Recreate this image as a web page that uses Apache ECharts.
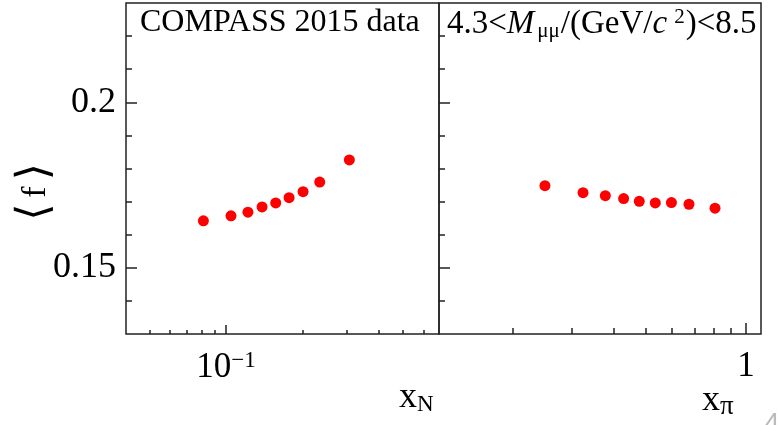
<!DOCTYPE html>
<html>
<head>
<meta charset="utf-8">
<script src="https://cdn.jsdelivr.net/npm/echarts@6/dist/echarts.min.js"></script>
<style>
html, body { margin: 0; padding: 0; background: #fff; }
#main { width: 779px; height: 425px; }
</style>
</head>
<body>
<div id="main"></div>
<script>
// data
var xN = [0.0814, 0.1046, 0.122, 0.1387, 0.157, 0.1773, 0.2013, 0.2342, 0.3065];
var fN = [0.1642, 0.1657, 0.1668, 0.1684, 0.1696, 0.1712, 0.1730, 0.1759, 0.1826];
var xPi = [0.249, 0.324, 0.378, 0.429, 0.478, 0.534, 0.597, 0.674, 0.807];
var fPi = [0.1748, 0.1727, 0.1718, 0.1709, 0.1701, 0.1696, 0.1697, 0.1692, 0.1680];

// axis ranges and ticks
var xNRange = [0.0403, 0.692];
var xPiRange = [0.1197, 1.109];
var fRange = [0.13, 0.23];
var xNMinor = [0.05, 0.06, 0.07, 0.08, 0.09, 0.2, 0.3, 0.4, 0.5, 0.6];
var xNMajor = [0.1];
var xPiMinor = [0.2, 0.3, 0.4, 0.5, 0.6, 0.7, 0.8, 0.9];
var xPiMajor = [1];
var fMinor = [0.14, 0.16, 0.17, 0.18, 0.19, 0.21, 0.22];
var fMajor = [0.15, 0.2];

var FONT = 'Liberation Serif';
var INK = '#222';

function lg(v) { return Math.log10(v); }

function powLabel(v) {
	var e = Math.round(v);
	if (e === 0) return '{b|1}';
	return '{b|10}{e|' + (e < 0 ? '\u2212' : '') + Math.abs(e) + '}';
}

var powRich = {
	b: { fontFamily: FONT, fontSize: 35, color: '#000' },
	e: { fontFamily: FONT, fontSize: 23, color: '#000', verticalAlign: 'top', padding: [0, 0, 14, 0] }
};

function xAxes(gridIndex, range, minor, major, tickMinor, tickMajor) {
	return [
		{
			type: 'value', gridIndex: gridIndex, position: 'bottom', offset: 0,
			min: lg(range[0]), max: lg(range[1]),
			axisLine: { show: false, onZero: false },
			axisTick: { show: true, inside: true, length: tickMinor, customValues: minor.map(lg),
				lineStyle: { color: INK, width: 1.5 } },
			axisLabel: { show: false },
			splitLine: { show: false }
		},
		{
			type: 'value', gridIndex: gridIndex, position: 'bottom', offset: 0,
			min: lg(range[0]), max: lg(range[1]),
			axisLine: { show: false, onZero: false },
			axisTick: { show: true, inside: true, length: tickMajor, customValues: major.map(lg),
				lineStyle: { color: INK, width: 1.5 } },
			axisLabel: { show: true, customValues: major.map(lg), margin: 15,
				formatter: powLabel, rich: powRich },
			splitLine: { show: false }
		}
	];
}

function yAxes(gridIndex, showLabels) {
	return [
		{
			type: 'value', gridIndex: gridIndex, position: 'left', offset: 0,
			min: fRange[0], max: fRange[1], interval: 0.01,
			axisLine: { show: false, onZero: false },
			axisTick: { show: true, inside: true, length: 6, customValues: fMinor,
				lineStyle: { color: INK, width: 1.5 } },
			axisLabel: { show: false },
			splitLine: { show: false }
		},
		{
			type: 'value', gridIndex: gridIndex, position: 'left', offset: 0,
			min: fRange[0], max: fRange[1], interval: 0.01,
			axisLine: { show: false, onZero: false },
			axisTick: { show: true, inside: true, length: 11, customValues: fMajor,
				lineStyle: { color: INK, width: 1.5 } },
			axisLabel: { show: showLabels, customValues: fMajor, margin: 10,
				fontFamily: FONT, fontSize: 36, color: '#000',
				formatter: function (v) { return String(+v.toFixed(2)); } },
			splitLine: { show: false }
		}
	];
}

function points(xs, ys) {
	return xs.map(function (x, i) { return [lg(x), ys[i]]; });
}

var vm = echarts.init(document.getElementById('main'), null, { renderer: 'canvas' });

var option = {
	animation: false,
	backgroundColor: '#fff',
	grid: [
		{ left: 126, top: 3, width: 313, height: 331, show: true, outerBoundsMode: 'none',
			borderColor: INK, borderWidth: 1.5, backgroundColor: 'transparent' },
		{ left: 439, top: 3, width: 322, height: 331, show: true, outerBoundsMode: 'none',
			borderColor: INK, borderWidth: 1.5, backgroundColor: 'transparent' }
	],
	xAxis: xAxes(0, xNRange, xNMinor, xNMajor, 4, 9)
		.concat(xAxes(1, xPiRange, xPiMinor, xPiMajor, 6, 11)),
	yAxis: yAxes(0, true).concat(yAxes(1, false)),
	series: [
		{
			type: 'scatter', xAxisIndex: 0, yAxisIndex: 0,
			symbol: 'circle', symbolSize: 11,
			itemStyle: { color: '#ff0000', opacity: 1 },
			data: points(xN, fN)
		},
		{
			type: 'scatter', xAxisIndex: 2, yAxisIndex: 2,
			symbol: 'circle', symbolSize: 11,
			itemStyle: { color: '#ff0000', opacity: 1 },
			data: points(xPi, fPi)
		}
	],
	graphic: [
		{
			type: 'text', left: 140, top: 7,
			style: { text: 'COMPASS 2015 data', font: '32px "Liberation Serif"', fill: '#000' }
		},
		{
			type: 'text', left: 447, top: 7,
			style: {
				text: '{n|4.3<}{i|M}{s|\u03bc\u03bc}{n|/(GeV/}{i|c}{p|2}{n|)<8.5}',
				rich: {
					n: { fontFamily: FONT, fontSize: 33, fill: '#000' },
					i: { fontFamily: FONT, fontSize: 33, fontStyle: 'italic', fill: '#000' },
					s: { fontFamily: FONT, fontSize: 21, fill: '#000', verticalAlign: 'bottom', padding: [14, 1, 0, 3] },
					p: { fontFamily: FONT, fontSize: 21, fill: '#000', verticalAlign: 'top', padding: [0, 1, 14, 7] }
				}
			}
		},
		{
			type: 'text', left: 399, top: 380,
			style: {
				text: '{x|x}{s|N}',
				rich: {
					x: { fontFamily: FONT, fontSize: 36, fill: '#000' },
					s: { fontFamily: FONT, fontSize: 23, fill: '#000', verticalAlign: 'bottom', padding: [12, 0, 0, 0] }
				}
			}
		},
		{
			type: 'text', left: 702, top: 383,
			style: {
				text: '{x|x}{s|\u03c0}',
				rich: {
					x: { fontFamily: FONT, fontSize: 36, fill: '#000' },
					s: { fontFamily: FONT, fontSize: 27, fill: '#000', verticalAlign: 'bottom', padding: [12, 0, 0, 0] }
				}
			}
		},
		{
			type: 'text', x: 36, y: 192, rotation: Math.PI / 2,
			style: {
				text: '{b|\u27e8}{f|f}{b|\u27e9}',
				align: 'center', verticalAlign: 'middle',
				rich: {
					b: { fontFamily: 'DejaVu Sans', fontSize: 44, fill: '#000', padding: [0, 6, 0, 6] },
					f: { fontFamily: FONT, fontSize: 34, fill: '#000' }
				}
			}
		},
		{
			type: 'text', left: 764, top: 410,
			style: { text: '4', font: '28px "Liberation Sans"', fill: '#bbb' }
		}
	]
};

vm.setOption(option);
</script>
</body>
</html>
